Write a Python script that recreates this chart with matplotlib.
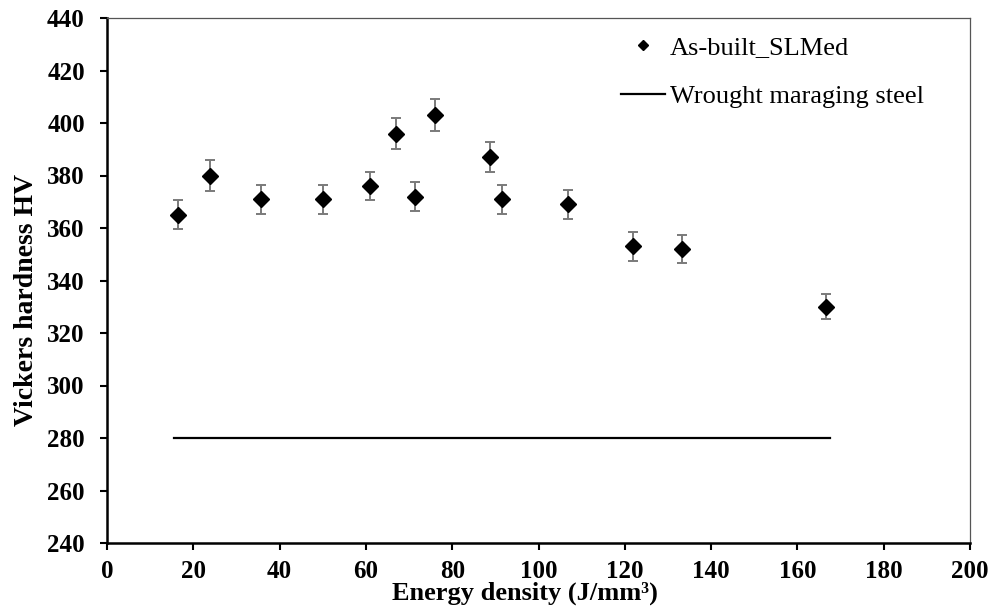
import matplotlib
matplotlib.use("Agg")
import matplotlib.pyplot as plt

# Energy density (J/mm^3) and Vickers hardness of as-built SLM specimens
energy_density = [16.5, 23.9, 35.7, 50.0, 61.0, 67.0, 71.4, 76.0, 88.8, 91.5, 106.8, 122.0, 133.3, 166.6]
hardness = [365, 380, 371, 371, 376, 396, 372, 403, 387, 371, 369, 353, 352, 330]
hardness_err = [5.5, 5.8, 5.5, 5.5, 5.5, 6.0, 5.5, 6.0, 5.8, 5.5, 5.5, 5.5, 5.2, 4.8]

# Wrought maraging steel reference hardness
wrought_x = [15.5, 167.5]
wrought_hv = [280, 280]

x_ticks = [0, 20, 40, 60, 80, 100, 120, 140, 160, 180, 200]
y_ticks = [240, 260, 280, 300, 320, 340, 360, 380, 400, 420, 440]

plt.rcParams['font.family'] = ['Liberation Serif', 'DejaVu Serif']

fig = plt.figure(figsize=(9.94, 6.15), dpi=100)
ax = fig.add_axes([107/994, 1 - 543/615, (970-107)/994, (543-18)/615])

ax.errorbar(energy_density, hardness, yerr=hardness_err, fmt='none',
            ecolor='#7a7a7a', elinewidth=1.4, capsize=3.5, capthick=1.4, zorder=2)
ax.plot(energy_density, hardness, 'D', color='black', markersize=8,
        label='As-built_SLMed', zorder=3)
ax.plot(wrought_x, wrought_hv, color='black', linewidth=1.6, label='Wrought maraging steel')

ax.set_xlim(0, 200)
ax.set_ylim(240, 440)
ax.set_xticks(x_ticks)
ax.set_yticks(y_ticks)
ax.tick_params(direction='out', length=5, width=1.5, labelsize=18)
ax.tick_params(axis='x', pad=7)
ax.tick_params(axis='y', pad=11)
for lbl in ax.get_xticklabels() + ax.get_yticklabels():
    lbl.set_fontweight('bold')

for side in ('left', 'bottom'):
    ax.spines[side].set_linewidth(1.8)
    ax.spines[side].set_color('black')
for side in ('top', 'right'):
    ax.spines[side].set_linewidth(0.9)
    ax.spines[side].set_color('#555555')

ax.set_xlabel('Energy density (J/mm³)', fontsize=19, fontweight='bold')
ax.xaxis.set_label_coords((525 - 107) / 863, -0.0733)
ax.set_ylabel('Vickers hardness HV', fontsize=20, fontweight='bold')
ax.yaxis.set_label_coords(-0.0788, 0.463)

leg = ax.legend(loc='upper left', bbox_to_anchor=((621 - 107) / 863, 0.967),
                frameon=False, fontsize=19, handlelength=1.65, handletextpad=0.2,
                labelspacing=0.98, borderpad=0, borderaxespad=0, markerscale=0.7)

fig.savefig('out.png', dpi=100)
